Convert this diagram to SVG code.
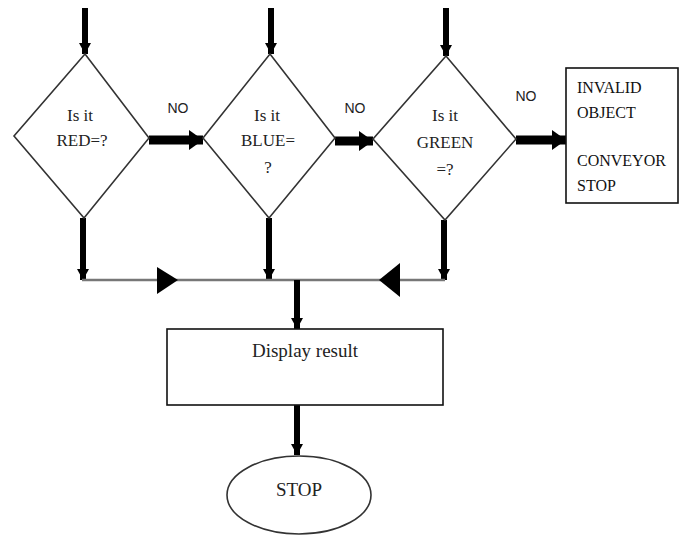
<svg xmlns="http://www.w3.org/2000/svg" width="683" height="535" viewBox="0 0 683 535">
<defs>
<style>
.shape{fill:#fff;stroke:#333;stroke-width:1.6}
.box{fill:#fff;stroke:#111;stroke-width:1.6}
.t{font-family:"Liberation Serif","Times New Roman",serif;font-size:17px;fill:#222;text-anchor:middle}
.tl{font-family:"Liberation Serif","Times New Roman",serif;font-size:16px;fill:#111}
.no{font-family:"Liberation Sans",Arial,sans-serif;font-size:14px;fill:#222;text-anchor:middle}
.v{stroke:#000;stroke-width:6;fill:none}
.h{stroke:#000;stroke-width:9;fill:none}
.bus{stroke:#777;stroke-width:2.5;fill:none}
.tri{fill:#000}
</style>
<marker id="av" markerUnits="userSpaceOnUse" markerWidth="12" markerHeight="12" refX="11" refY="6" orient="auto">
<path d="M0,0 L11,6 L0,12 Z" fill="#000"/>
</marker>
<marker id="ah" markerUnits="userSpaceOnUse" markerWidth="15" markerHeight="20" refX="14" refY="10" orient="auto">
<path d="M0,0 L14,10 L0,20 Z" fill="#000"/>
</marker>
</defs>
<rect width="683" height="535" fill="#fff"/>

<g id="connectors">
<line class="v" x1="85" y1="8" x2="85" y2="54" marker-end="url(#av)"/>
<line class="v" x1="271" y1="8" x2="271" y2="54" marker-end="url(#av)"/>
<line class="v" x1="446" y1="8" x2="446" y2="56" marker-end="url(#av)"/>
<line class="h" x1="149" y1="140" x2="203" y2="140" marker-end="url(#ah)"/>
<line class="h" x1="335" y1="141" x2="373" y2="141" marker-end="url(#ah)"/>
<line class="h" x1="516" y1="140" x2="566" y2="140" marker-end="url(#ah)"/>
<line class="v" x1="83" y1="218" x2="83" y2="280" marker-end="url(#av)"/>
<line class="v" x1="269" y1="218" x2="269" y2="280" marker-end="url(#av)"/>
<line class="v" x1="444" y1="220" x2="444" y2="280" marker-end="url(#av)"/>
<line class="bus" x1="82" y1="280" x2="445" y2="280"/>
<polygon class="tri" points="157,267 178,280 157,294"/>
<polygon class="tri" points="400,263 379,280 400,297"/>
<line class="v" x1="297" y1="280" x2="297" y2="329" marker-end="url(#av)"/>
<line class="v" x1="297" y1="405" x2="297" y2="455" marker-end="url(#av)"/>
</g>

<g id="d_red">
<polygon class="shape" points="85,54 149,138 84,218 14,136"/>
<text class="t" x="80" y="121">Is it</text>
<text class="t" x="82" y="146">RED=?</text>
</g>
<g id="d_blue">
<polygon class="shape" points="270,54 335,138 269,218 203,138"/>
<text class="t" x="267" y="121">Is it</text>
<text class="t" x="268" y="146">BLUE=</text>
<text class="t" x="268" y="173">?</text>
</g>
<g id="d_green">
<polygon class="shape" points="446,56 516,139 445,220 373,139"/>
<text class="t" x="445" y="121">Is it</text>
<text class="t" x="445" y="148">GREEN</text>
<text class="t" x="445" y="175">=?</text>
</g>
<g id="invalid">
<rect class="box" x="566" y="68" width="112" height="135"/>
<text class="tl" x="577" y="93">INVALID</text>
<text class="tl" x="577" y="118">OBJECT</text>
<text class="tl" x="577" y="166">CONVEYOR</text>
<text class="tl" x="577" y="191">STOP</text>
</g>
<g id="labels">
<text class="no" x="178" y="113">NO</text>
<text class="no" x="355" y="113">NO</text>
<text class="no" x="526" y="101">NO</text>
</g>
<g id="display">
<rect class="box" x="167" y="329" width="276" height="76"/>
<text class="t" x="305" y="357" style="font-size:19px">Display result</text>
</g>
<g id="stop">
<ellipse class="shape" cx="299" cy="495" rx="72" ry="39"/>
<text class="t" x="299" y="496" style="font-size:19px">STOP</text>
</g>
</svg>
